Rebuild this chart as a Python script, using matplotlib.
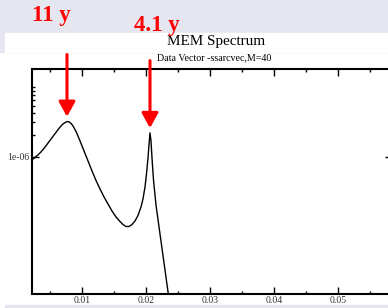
import matplotlib
matplotlib.use("Agg")
from matplotlib import pyplot as plt
from matplotlib.patches import Rectangle
from matplotlib.ticker import FixedLocator, FuncFormatter, MultipleLocator

# MEM spectrum
freq = [0.002188, 0.002656, 0.003125, 0.003594, 0.004063, 0.004531, 0.0050,
        0.005469, 0.005938, 0.006406, 0.006875, 0.007266, 0.007656, 0.007969,
        0.008281, 0.008594, 0.009063, 0.009688, 0.010313, 0.010938, 0.011563,
        0.012188, 0.012813, 0.013438, 0.014063, 0.014688, 0.015313, 0.015938,
        0.016406, 0.016875, 0.017344, 0.017813, 0.018281, 0.01875, 0.019219,
        0.019531, 0.019844, 0.020078, 0.020313, 0.020469, 0.020625, 0.020781,
        0.020938, 0.021172, 0.021563, 0.022188, 0.022969, 0.02375]
power = [9.01e-7, 9.75e-7, 1.055e-6, 1.160e-6, 1.295e-6, 1.469e-6, 1.667e-6,
         1.891e-6, 2.145e-6, 2.433e-6, 2.717e-6, 2.894e-6, 3.016e-6, 2.987e-6,
         2.849e-6, 2.633e-6, 2.214e-6, 1.641e-6, 1.197e-6, 8.73e-7, 6.37e-7,
         4.72e-7, 3.61e-7, 2.81e-7, 2.25e-7, 1.804e-7, 1.493e-7, 1.295e-7,
         1.178e-7, 1.106e-7, 1.106e-7, 1.178e-7, 1.316e-7, 1.565e-7, 2.046e-7,
         2.634e-7, 3.845e-7, 5.79e-7, 9.60e-7, 1.446e-6, 2.113e-6, 1.641e-6,
         9.60e-7, 4.80e-7, 2.18e-7, 8.73e-8, 2.81e-8, 9.01e-9]

peak_freq = [0.007656, 0.020625]
peak_power = [3.016e-6, 2.113e-6]
peak_labels = ["11 y", "4.1 y"]

xticks_major = [0.01, 0.02, 0.03, 0.04, 0.05]
yticks_major = [1e-6]
yticks_minor = [2e-6, 3e-6, 4e-6, 5e-6, 6e-6, 7e-6, 8e-6, 9e-6]

lavender = "#e6e6f0"
serif = ["Liberation Serif", "DejaVu Serif"]

W, H = 388, 308
fig = plt.figure(figsize=(W / 100, H / 100), dpi=100)
fig.patch.set_facecolor("white")

# slide background bits
fig.patches.append(Rectangle((0, 1 - 52 / H), 1, 52 / H, transform=fig.transFigure,
                             color=lavender, zorder=0))
fig.patches.append(Rectangle((5 / W, 1 - 52 / H), 1, 19 / H, transform=fig.transFigure,
                             color="white", zorder=0))
fig.patches.append(Rectangle((5 / W, 0), 1, 3 / H, transform=fig.transFigure,
                             color=lavender, zorder=0))

left, right, top, bottom = 32, 392, 69, 293.5
ax = fig.add_axes([left / W, 1 - bottom / H, (right - left) / W, (bottom - top) / H])
ax.set_facecolor("none")

ax.plot(freq, power, color="black", lw=1.0)
ax.set_yscale("log")
ax.set_xlim(0.002188, 0.05844)
ax.set_ylim(1.34e-8, 1.58e-5)

ax.xaxis.set_major_locator(FixedLocator(xticks_major))
ax.xaxis.set_minor_locator(MultipleLocator(0.005))
ax.xaxis.set_major_formatter(FuncFormatter(lambda v, p: "%g" % round(v, 3)))
ax.yaxis.set_major_locator(FixedLocator(yticks_major))
ax.yaxis.set_minor_locator(FixedLocator(yticks_minor))
ax.yaxis.set_major_formatter(FuncFormatter(lambda v, p: "1e-06"))
ax.yaxis.set_minor_formatter(FuncFormatter(lambda v, p: ""))

ax.tick_params(which="both", direction="in", top=True, right=True, width=1.0,
               colors="black", labelsize=7, pad=2)
ax.tick_params(which="major", length=5)
ax.tick_params(which="minor", length=2.5)
for lab in ax.get_xticklabels() + ax.get_yticklabels():
    lab.set_family(serif)
    lab.set_color("#333333")
for s in ax.spines.values():
    s.set_linewidth(1.5)

# titles
fig.text(216 / W, 1 - 41 / H, "MEM Spectrum", family=serif, fontsize=10.9,
         ha="center", va="center")
fig.text(214 / W, 1 - 57.3 / H, "Data Vector -ssarcvec,M=40", family=serif,
         fontsize=7.2, ha="center", va="center")

# red arrows at peaks
for f, p in zip(peak_freq, peak_power):
    ax.annotate("", xy=(f, p), xytext=(0, 52), textcoords="offset points",
                annotation_clip=False,
                arrowprops=dict(arrowstyle="-|>,head_width=0.5,head_length=0.9",
                                mutation_scale=10, color="red", lw=2.2,
                                shrinkA=0, shrinkB=3.5))

label_pos = [(32, 16), (134, 25)]
for (x, y), txt in zip(label_pos, peak_labels):
    fig.text(x / W, 1 - y / H, txt, family=serif, fontsize=16.5, fontweight="bold",
             color="red", ha="left", va="center")

fig.savefig("out.png", dpi=100)
